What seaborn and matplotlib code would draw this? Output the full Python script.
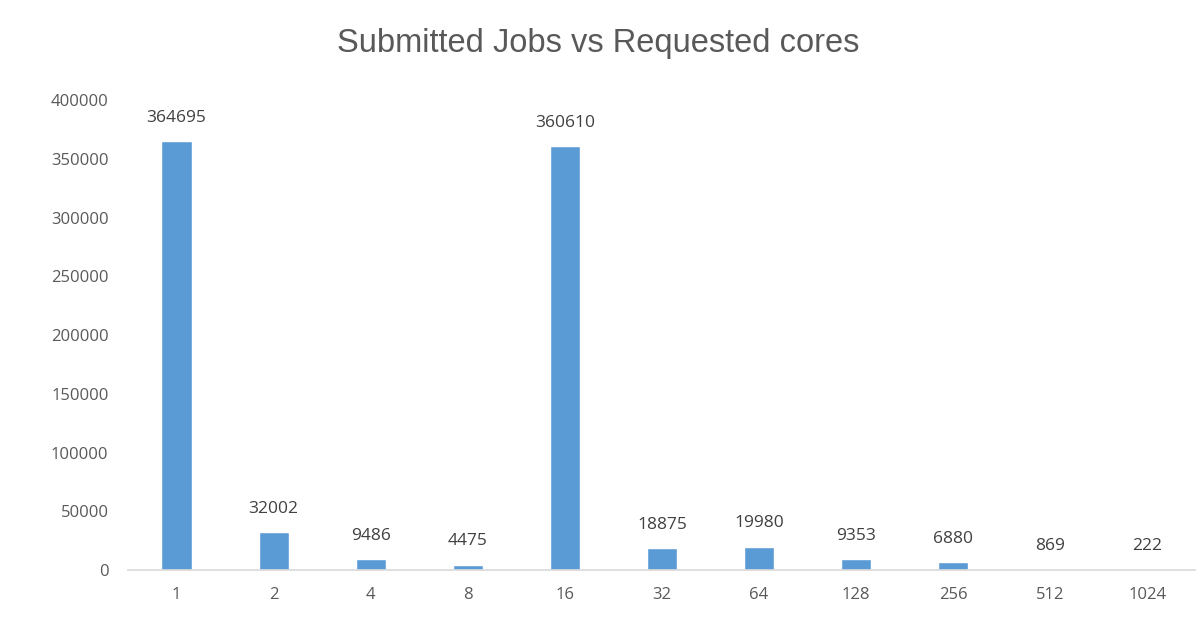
import seaborn as sns
import pandas as pd
import numpy as np
import matplotlib.pyplot as plt

cores = ["1", "2", "4", "8", "16", "32", "64", "128", "256", "512", "1024"]
jobs = [364695, 32002, 9486, 4475, 360610, 18875, 19980, 9353, 6880, 869, 222]

if __name__ == '__main__':
    sns.set_style("white")
    plt.rcParams['font.family'] = ['Open Sans', 'DejaVu Sans']

    df = pd.DataFrame({"cores": cores, "jobs": jobs})

    fig = plt.figure(figsize=(11.96, 6.33), dpi=100)
    ax = fig.add_axes([0.107, 0.0995, 0.893, 0.7425])

    sns.barplot(data=df, x="cores", y="jobs", color="#5B9BD5", width=0.31,
                saturation=1, ax=ax)

    ax.bar_label(ax.containers[0], labels=[str(v) for v in jobs], padding=11,
                 fontsize=12.5, color="#404040")

    ax.set_ylim(0, 400000)
    ax.set_yticks(np.arange(0, 400001, 50000))
    ax.tick_params(axis='both', length=0, labelsize=12, labelcolor="#595959")
    ax.tick_params(axis='x', pad=12)
    ax.tick_params(axis='y', pad=14)

    for s in ["top", "right", "left"]:
        ax.spines[s].set_visible(False)
    ax.spines["bottom"].set_color("#d9d9d9")
    ax.spines["bottom"].set_linewidth(1.2)

    ax.set_xlabel("")
    ax.set_ylabel("")
    fig.suptitle("Submitted Jobs vs Requested cores", y=0.956, fontsize=23.5,
                 color="#595959", family=['Liberation Sans', 'DejaVu Sans'])

    fig.savefig("out.png", dpi=100)
